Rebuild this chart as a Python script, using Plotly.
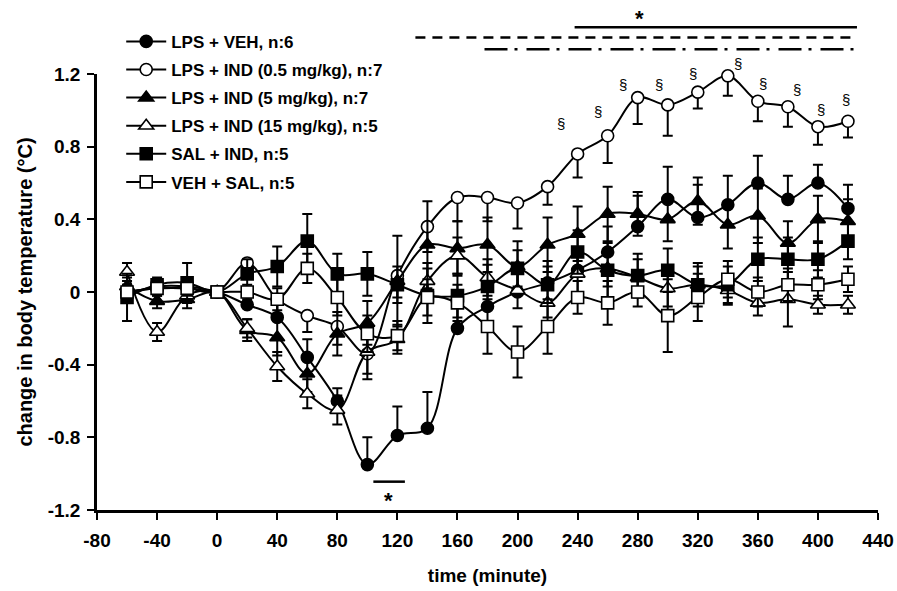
import plotly.graph_objects as go

# ---------------- data ----------------
time_min = [-60, -40, -20, 0, 20, 40, 60, 80, 100, 120, 140, 160, 180, 200,
            220, 240, 260, 280, 300, 320, 340, 360, 380, 400, 420]

lps_veh = [-0.01, 0.03, 0.03, 0, -0.07, -0.14, -0.36, -0.60, -0.95, -0.79, -0.75, -0.20, -0.08, 0.00,
           0.05, 0.12, 0.22, 0.36, 0.51, 0.41, 0.48, 0.60, 0.51, 0.60, 0.46]
lps_veh_err = [0.05, 0.04, 0.04, 0, 0.06, 0.08, 0.10, 0.07, 0.15, 0.16, 0.20, 0.12, 0.10, 0.10,
               0.12, 0.12, 0.14, 0.17, 0.18, 0.18, 0.16, 0.15, 0.13, 0.10, 0.13]

lps_ind05 = [0.00, 0.02, 0.02, 0, 0.16, -0.04, -0.13, -0.19, -0.34, 0.09, 0.36, 0.52, 0.52, 0.49,
             0.58, 0.76, 0.86, 1.07, 1.03, 1.10, 1.19, 1.05, 1.02, 0.91, 0.94]
lps_ind05_err = [0.05, 0.04, 0.04, 0, 0.05, 0.08, 0.09, 0.10, 0.14, 0.12, 0.14, 0.13, 0.13, 0.14,
                 0.10, 0.13, 0.15, 0.145, 0.17, 0.09, 0.11, 0.11, 0.11, 0.10, 0.09]

lps_ind5 = [0.03, -0.05, -0.04, 0, -0.21, -0.25, -0.45, -0.23, -0.17, 0.06, 0.26, 0.24, 0.26, 0.14,
            0.26, 0.32, 0.43, 0.43, 0.40, 0.50, 0.37, 0.42, 0.27, 0.40, 0.39]
lps_ind5_err = [0.05, 0.04, 0.05, 0, 0.06, 0.10, 0.10, 0.12, 0.12, 0.25, 0.24, 0.15, 0.15, 0.14,
                0.15, 0.15, 0.15, 0.12, 0.12, 0.13, 0.13, 0.15, 0.12, 0.13, 0.12]

lps_ind15 = [0.11, -0.22, -0.02, 0, -0.20, -0.41, -0.56, -0.65, -0.33, -0.26, 0.06, 0.20, 0.08, 0.01,
             -0.06, 0.10, 0.13, 0.08, 0.02, 0.04, 0.01, -0.06, -0.04, -0.07, -0.07]
lps_ind15_err = [0.05, 0.05, 0.04, 0, 0.05, 0.08, 0.08, 0.08, 0.12, 0.08, 0.10, 0.10, 0.10, 0.10,
                 0.08, 0.10, 0.10, 0.10, 0.10, 0.10, 0.08, 0.07, 0.15, 0.05, 0.05]

sal_ind = [-0.03, 0.04, 0.05, 0, 0.10, 0.14, 0.28, 0.10, 0.10, 0.04, -0.02, -0.02, 0.03, 0.13,
           0.04, 0.22, 0.12, 0.09, 0.12, 0.04, 0.04, 0.18, 0.18, 0.18, 0.28]
sal_ind_err = [0.13, 0.04, 0.11, 0, 0.08, 0.11, 0.15, 0.11, 0.12, 0.10, 0.15, 0.12, 0.12, 0.10,
               0.10, 0.12, 0.15, 0.12, 0.12, 0.12, 0.10, 0.12, 0.12, 0.10, 0.10]

veh_sal = [0.00, 0.02, 0.02, 0, 0.00, -0.04, 0.13, -0.03, -0.23, -0.24, -0.03, -0.06, -0.19, -0.33,
           -0.19, -0.03, -0.06, 0.00, -0.13, -0.03, 0.07, 0.00, 0.04, 0.04, 0.07]
veh_sal_err = [0.04, 0.04, 0.04, 0, 0.04, 0.06, 0.08, 0.10, 0.10, 0.08, 0.10, 0.10, 0.15, 0.14,
               0.15, 0.09, 0.12, 0.08, 0.20, 0.13, 0.10, 0.08, 0.09, 0.08, 0.07]

series_names = ["LPS + VEH, n:6", "LPS + IND (0.5 mg/kg), n:7", "LPS + IND (5 mg/kg), n:7",
                "LPS + IND (15 mg/kg), n:5", "SAL + IND, n:5", "VEH + SAL, n:5"]

x_tickvals = [-80, -40, 0, 40, 80, 120, 160, 200, 240, 280, 320, 360, 400, 440]
x_ticktext = ["-80", "-40", "0", "40", "80", "120", "160", "200", "240", "280", "320", "360", "400", "440"]
y_tickvals = [-1.2, -0.8, -0.4, 0, 0.4, 0.8, 1.2]
y_ticktext = ["-1.2", "-0.8", "-0.4", "0", "0.4", "0.8", "1.2"]

# significance markers
section_times = [240, 260, 280, 300, 320, 340, 360, 380, 400, 420]
section_dx = [-17, -10, -15, -9, -5, 10, 5, 9, 3, -2]
section_dy = [-30, -24, -13, -20, -19, -12, -18, -17, -17, -22]

sig_solid_x = [238, 426]
sig_dash_x = [132, 426]
sig_dashdot_x = [178, 426]
sig_top_star_x = 281
sig_low_x = [104, 125]
sig_low_y = -1.044
sig_low_star = (114, -1.15)

FONT = "Liberation Sans, Arial, Helvetica, sans-serif"
BOLD = dict(family=FONT, color="black", weight="bold")

fig = go.Figure()

styles = [
    (lps_veh, lps_veh_err, "circle", "black", "up"),
    (lps_ind05, lps_ind05_err, "circle", "white", "down"),
    (lps_ind5, lps_ind5_err, "triangle-up", "black", "both"),
    (lps_ind15, lps_ind15_err, "triangle-up", "white", "both"),
    (sal_ind, sal_ind_err, "square", "black", "both"),
    (veh_sal, veh_sal_err, "square", "white", "both"),
]

for i in range(6):
    vals, err, sym, fill, direction = styles[i]
    zeros = [0] * len(err)
    if direction == "up":
        ey = dict(type="data", symmetric=False, array=err, arrayminus=zeros)
    elif direction == "down":
        ey = dict(type="data", symmetric=False, array=zeros, arrayminus=err)
    else:
        ey = dict(type="data", array=err)
    ey.update(color="black", thickness=2, width=5)
    size = 12 if sym != "triangle-up" else 13
    fig.add_trace(go.Scatter(
        x=time_min, y=vals, name=series_names[i], legendgroup=str(i),
        mode="lines+markers",
        line=dict(color="black", width=2, shape="spline", smoothing=1),
        marker=dict(symbol=sym, size=size, color=fill, line=dict(color="black", width=1.6)),
        error_y=ey, cliponaxis=False,
    ))

# section signs above the 0.5 mg/kg curve
idx05 = {t: v for t, v in zip(time_min, lps_ind05)}
for t, dx, dy in zip(section_times, section_dx, section_dy):
    fig.add_annotation(x=t, y=idx05[t], xref="x", yref="y", text="§", showarrow=False,
                       xshift=dx, yshift=-dy, font=dict(family=FONT, size=15, color="black"))

# top significance lines (above plot area)
fig.add_shape(type="line", xref="x", yref="paper", x0=sig_solid_x[0], x1=sig_solid_x[1],
              y0=1.107, y1=1.107, line=dict(color="black", width=2.5))
fig.add_shape(type="line", xref="x", yref="paper", x0=sig_dash_x[0], x1=sig_dash_x[1],
              y0=1.084, y1=1.084, line=dict(color="black", width=2.5, dash="10px,7px"))
fig.add_shape(type="line", xref="x", yref="paper", x0=sig_dashdot_x[0], x1=sig_dashdot_x[1],
              y0=1.057, y1=1.057, line=dict(color="black", width=2.5, dash="23px,7px,3px,9px"))
fig.add_annotation(x=sig_top_star_x, y=1.093, xref="x", yref="paper", text="*",
                   yanchor="bottom", showarrow=False, font=dict(BOLD, size=22))

# lower significance line
fig.add_shape(type="line", xref="x", yref="y", x0=sig_low_x[0], x1=sig_low_x[1],
              y0=sig_low_y, y1=sig_low_y, line=dict(color="black", width=2.5))
fig.add_annotation(x=sig_low_star[0], y=sig_low_star[1], xref="x", yref="y", text="*",
                   showarrow=False, font=dict(BOLD, size=22))

fig.update_layout(
    width=897, height=591,
    margin=dict(l=97, r=19, t=74, b=81),
    paper_bgcolor="white", plot_bgcolor="white",
    font=dict(family=FONT, color="black"),
    showlegend=True,
    legend=dict(x=0.031, y=1.115, xanchor="left", yanchor="top",
                bgcolor="rgba(0,0,0,0)", font=dict(BOLD, size=17),
                tracegroupgap=3, itemwidth=40),
    xaxis=dict(range=[-80, 440], tickvals=x_tickvals, ticktext=x_ticktext,
               showgrid=False, zeroline=False, showline=True, linecolor="black", linewidth=2.5,
               ticks="outside", ticklen=7, tickwidth=2, tickcolor="black",
               ticklabelstandoff=4, automargin=False,
               tickfont=dict(BOLD, size=19),
               title=dict(text="time (minute)", font=dict(BOLD, size=19), standoff=20)),
    yaxis=dict(range=[-1.2, 1.2], tickvals=y_tickvals, ticktext=y_ticktext,
               showgrid=False, zeroline=False, showline=True, linecolor="black", linewidth=2.5,
               ticks="outside", ticklen=7, tickwidth=2, tickcolor="black",
               ticklabelstandoff=3, automargin=False,
               tickfont=dict(BOLD, size=19),
               title=dict(text="change in body temperature (°C)", font=dict(BOLD, size=20),
                          standoff=10)),
)

fig.write_html("out.html")
